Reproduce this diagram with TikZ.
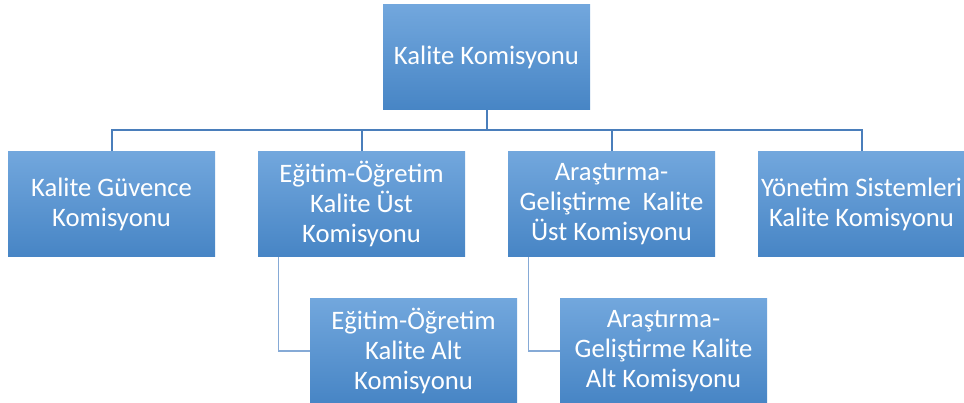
\documentclass[tikz,border=0pt]{standalone}
\usepackage{fontspec}
\setmainfont{Carlito}
\definecolor{boxtop}{HTML}{72A7DD}
\definecolor{boxbot}{HTML}{4785C5}
\definecolor{linedark}{HTML}{4A7EBB}
\definecolor{linelight}{HTML}{86AAD6}
\begin{document}
\begin{tikzpicture}[x=0.75pt,y=-0.75pt,
  orgbox/.style={rectangle, draw=none, minimum width=155.25pt, minimum height=78.75pt,
    inner sep=0pt, top color=boxtop, bottom color=boxbot, text=white, align=center,
    font=\fontsize{20}{22.5}\selectfont},
  mainlink/.style={draw=linedark, line width=1.5pt},
  sublink/.style={draw=linelight, line width=1.1pt}]
\useasboundingbox (0,0) rectangle (964,403);
\begin{scope}
\clip (0,0) rectangle (964,403);
\coordinate (bar) at (0,130);
\node[orgbox] (top) at (486.5,57.5) {Kalite Komisyonu};
\node[orgbox] (b1) at (111.5,204) {Kalite Güvence\\Komisyonu};
\node[orgbox] (b2) at (361.5,204) {Eğitim-Öğretim\\Kalite Üst\\Komisyonu};
\node[orgbox] (b3) at (611.5,204) {Araştırma-\\Geliştirme\ \ Kalite\\Üst Komisyonu};
\node[orgbox] (b4) at (861.5,204) {Yönetim Sistemleri\\Kalite Komisyonu};
\node[orgbox] (c1) at (413.5,351) {Eğitim-Öğretim\\Kalite Alt\\Komisyonu};
\node[orgbox] (c2) at (663.5,351) {Araştırma-\\Geliştirme Kalite\\Alt Komisyonu};
\foreach \b in {b1,b2,b3,b4}{
  \draw[mainlink] (top.south) -- (top.south |- bar) -| (\b.north);
}
\draw[sublink] ([xshift=15.75pt]b2.south west) |- (c1.west);
\draw[sublink] ([xshift=15.75pt]b3.south west) |- (c2.west);
\end{scope}
\end{tikzpicture}
\end{document}
